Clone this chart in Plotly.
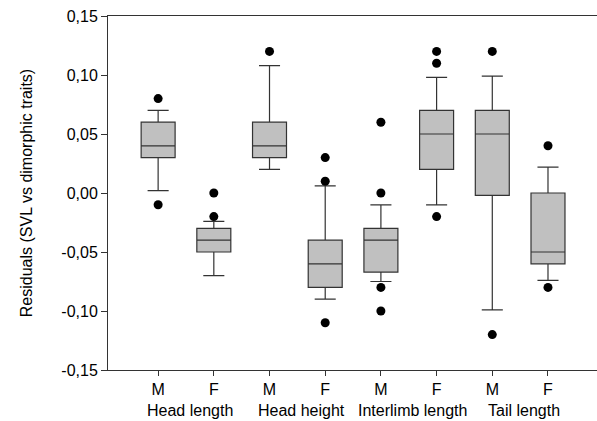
import plotly.graph_objects as go

sexes = ["M", "F", "M", "F", "M", "F", "M", "F"]
groups = ["Head length", "Head height", "Interlimb length", "Tail length"]
q1 = [0.030, -0.050, 0.030, -0.080, -0.067, 0.020, -0.002, -0.060]
median = [0.040, -0.040, 0.040, -0.060, -0.040, 0.050, 0.050, -0.050]
q3 = [0.060, -0.030, 0.060, -0.040, -0.030, 0.070, 0.070, 0.000]
lower = [0.002, -0.070, 0.020, -0.090, -0.075, -0.010, -0.099, -0.074]
upper = [0.070, -0.024, 0.108, 0.006, -0.010, 0.098, 0.099, 0.022]
outliers = [[0.08, -0.01], [0.0, -0.02], [0.12], [0.03, 0.01, -0.11],
            [0.06, 0.0, -0.08, -0.10], [0.12, 0.11, -0.02], [0.12, -0.12], [0.04, -0.08]]
ytick_vals = [-0.15, -0.10, -0.05, 0.00, 0.05, 0.10, 0.15]
ytick_text = ["-0,15", "-0,10", "-0,05", "0,00", "0,05", "0,10", "0,15"]

pos = list(range(1, len(sexes) + 1))
FONT = "Arial, Liberation Sans, sans-serif"

fig = go.Figure()
fig.add_trace(go.Box(
    x=pos, q1=q1, median=median, q3=q3, lowerfence=lower, upperfence=upper,
    width=0.61, whiskerwidth=0.62, fillcolor="#c0c0c0",
    line=dict(color="#333333", width=1.2), boxpoints=False, showlegend=False,
    hoverinfo="skip"))

ox, oy = [], []
for p, vals in zip(pos, outliers):
    for v in vals:
        ox.append(p)
        oy.append(v)
fig.add_trace(go.Scatter(x=ox, y=oy, mode="markers",
                         marker=dict(color="black", size=9), showlegend=False))

for i, g in enumerate(groups):
    fig.add_annotation(x=(pos[2 * i] + pos[2 * i + 1]) / 2 + 0.07, y=-0.113,
                       xref="x", yref="paper", text=g, showarrow=False,
                       font=dict(size=16, color="black", family=FONT),
                       xanchor="center", yanchor="middle")

fig.update_layout(
    width=597, height=421,
    margin=dict(l=108, r=0, t=16, b=51),
    plot_bgcolor="white", paper_bgcolor="white",
    font=dict(family=FONT, size=16, color="black"),
    xaxis=dict(range=[0.1, 8.88], tickvals=pos, ticktext=sexes,
               showline=True, linecolor="#333333", linewidth=1, mirror=True,
               ticks="outside", ticklen=5, tickcolor="#333333",
               showgrid=False, zeroline=False, tickfont=dict(size=16)),
    yaxis=dict(range=[-0.15, 0.15], tickvals=ytick_vals, ticktext=ytick_text,
               showline=True, linecolor="#333333", linewidth=1, mirror=False,
               ticks="outside", ticklen=6, tickcolor="#333333",
               showgrid=False, zeroline=False, tickfont=dict(size=16),
               title=dict(text="Residuals (SVL vs dimorphic traits)",
                          font=dict(size=16), standoff=24)),
)

fig.write_html("out.html")
